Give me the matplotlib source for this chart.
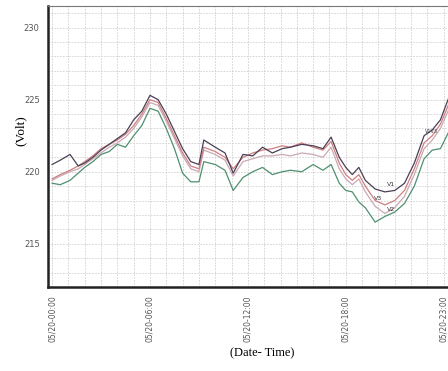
import numpy as np
import matplotlib
matplotlib.use("Agg")
import matplotlib.pyplot as plt

# time of day in hours (05/20)
hours = [0, 0.5, 1.1, 1.6, 2, 2.5, 3, 3.5, 4, 4.5, 5, 5.5, 6, 6.5, 7, 7.5, 8, 8.5,
         9.0, 9.3, 10, 10.6, 11.1, 11.7, 12.3, 12.9, 13.5, 14.1, 14.6, 15.3, 16,
         16.6, 17.1, 17.6, 18.0, 18.4, 18.8, 19.2, 19.8, 20.4, 21, 21.6, 22.2,
         22.8, 23.3, 23.8, 24.5]

# voltages
v_dark = [220.5, 220.8, 221.2, 220.4, 220.6, 221.0, 221.5, 221.9, 222.3, 222.7,
          223.6, 224.2, 225.3, 225.0, 224.0, 222.8, 221.6, 220.7, 220.5, 222.2,
          221.7, 221.3, 219.9, 221.2, 221.1, 221.7, 221.3, 221.6, 221.7, 221.9,
          221.8, 221.6, 222.4, 221.0, 220.3, 219.8, 220.3, 219.4, 218.8, 218.6,
          218.7, 219.2, 220.6, 222.5, 222.9, 223.6, 225.7]
v_red = [219.5, 219.8, 220.1, 220.4, 220.7, 221.1, 221.6, 221.9, 222.2, 222.6,
         223.2, 224.0, 225.0, 224.8, 223.7, 222.5, 221.3, 220.4, 220.2, 221.7,
         221.4, 221.0, 220.2, 221.0, 221.3, 221.5, 221.6, 221.8, 221.7, 222.0,
         221.7, 221.5, 222.1, 220.6, 219.8, 219.4, 219.8, 219.0, 218.0, 217.7,
         218.0, 218.7, 220.2, 222.0, 222.5, 223.3, 225.2]
v_pink = [219.4, 219.7, 220.0, 220.2, 220.5, 220.9, 221.3, 221.7, 222.0, 222.4,
          223.0, 223.8, 224.8, 224.6, 223.5, 222.3, 221.1, 220.2, 220.0, 221.5,
          221.2, 220.8, 219.7, 220.7, 220.9, 221.1, 221.1, 221.2, 221.1, 221.3,
          221.2, 221.0, 221.7, 220.2, 219.5, 219.1, 219.5, 218.6, 217.6, 217.1,
          217.5, 218.3, 219.8, 221.6, 222.2, 223.0, 224.8]
v_green = [219.2, 219.1, 219.4, 219.9, 220.3, 220.7, 221.2, 221.4, 221.9, 221.7,
           222.5, 223.2, 224.4, 224.2, 223.0, 221.6, 219.9, 219.3, 219.3, 220.7,
           220.5, 220.1, 218.7, 219.6, 220.0, 220.3, 219.8, 220.0, 220.1, 220.0,
           220.5, 220.1, 220.5, 219.2, 218.7, 218.6, 217.9, 217.5, 216.5, 216.9,
           217.2, 217.8, 219.0, 220.9, 221.5, 221.6, 223.2]

tick_pos = [0, 6, 12, 18, 24]
tick_labels = ["05/20-00:00", "05/20-06:00", "05/20-12:00", "05/20-18:00", "05/20-23:00"]

fig = plt.figure(figsize=(4.48, 3.71), dpi=100)
W, H = 448, 371
# axes runs off the right edge like in the original screenshot
ax = fig.add_axes([48 / W, (H - 287) / H, 412 / W, 281 / H])

ax.plot(hours, v_green, color="#4f8f6f", lw=0.9)
ax.plot(hours, v_pink, color="#c9a9b3", lw=0.9)
ax.plot(hours, v_red, color="#cf7f80", lw=0.9)
ax.plot(hours, v_dark, color="#4a3f55", lw=0.9)

# small curve labels
ax.text(20.5, 219.0, "V1", fontsize=4.5, color="#333333")
ax.text(19.75, 218.05, "V3", fontsize=4.5, color="#333333")
ax.text(20.55, 217.3, "V2", fontsize=4.5, color="#333333")
ax.text(22.85, 222.7, "V1V3", fontsize=3.5, color="#333333")

ax.set_xlim(-0.25, 25)
ax.set_ylim(212, 231.5)
ax.set_yticks([215, 220, 225, 230])
ax.set_xticks(tick_pos)
ax.set_xticklabels(tick_labels, rotation=90, fontsize=5.5)
ax.set_xticks(np.arange(0, 26, 1), minor=True)
ax.set_yticks(np.arange(212, 232, 1), minor=True)
ax.grid(which="both", color="#d0d0d0", ls=(0, (2, 1.5)), lw=0.6)
ax.tick_params(which="both", length=0, labelsize=6, labelcolor="#555555", pad=6)
ax.tick_params(axis="x", labelsize=5.5)

for s in ["left", "bottom"]:
    ax.spines[s].set_color("#222222")
    ax.spines[s].set_linewidth(1.8)
ax.spines["top"].set_color("#777777")
ax.spines["top"].set_linewidth(0.8)
ax.spines["right"].set_visible(False)

fig.text(21 / W, 1 - 131 / H, "(Volt)", rotation=90, ha="center", va="center",
         family="Liberation Serif", fontsize=9.5)
fig.text(262 / W, 1 - 353 / H, "(Date- Time)", ha="center", va="center",
         family="Liberation Serif", fontsize=9)

fig.savefig("out.png", dpi=100)
